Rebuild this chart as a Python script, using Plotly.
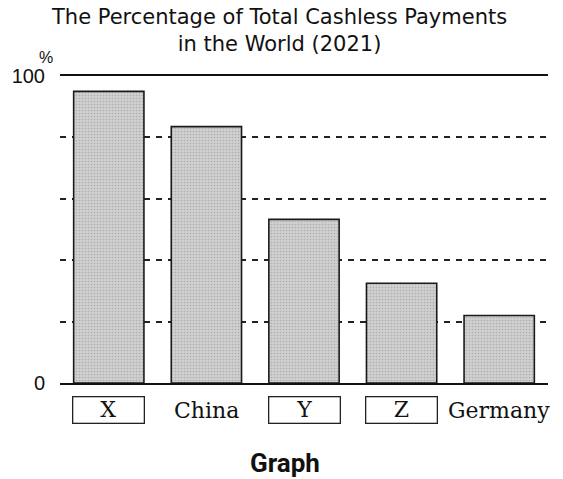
import plotly.graph_objects as go

categories = ["X", "China", "Y", "Z", "Germany"]
values = [95, 83.5, 53.3, 32.5, 22]
boxed = [True, False, True, True, False]
y_tickvals = [0, 20, 40, 60, 80, 100]
y_ticktext = ["0", "", "", "", "", "100"]
title_lines = ["The Percentage of Total Cashless Payments", "in the World (2021)"]

fig = go.Figure()
fig.add_trace(go.Bar(
    x=list(range(len(categories))),
    y=values,
    marker=dict(
        color="#cfcfcf",
        line=dict(color="#1a1a1a", width=1.6),
        pattern=dict(shape=".", fgcolor="#8c8c8c", bgcolor="#d0d0d0", size=3, solidity=0.25),
    ),
    width=0.72,
    hoverinfo="skip",
))

serif = "DejaVu Serif, Liberation Serif, serif"
sans = "DejaVu Sans, Liberation Sans, Arial, sans-serif"

for i, (cat, b) in enumerate(zip(categories, boxed)):
    fig.add_annotation(
        x=i, xref="x", y=0, yref="paper", yshift=-27, yanchor="middle",
        text=cat, showarrow=False,
        font=dict(family=serif, size=22, color="#111"),
        width=68 if b else None, height=23 if b else None,
        bordercolor="#222" if b else "rgba(0,0,0,0)", borderwidth=1.3 if b else 0,
        borderpad=1,
    )

# two-line title as one text block
fig.add_annotation(x=0.448, xref="paper", y=1, yref="paper", yshift=46, yanchor="middle",
                   text="<br>".join(title_lines), showarrow=False, borderpad=0, align="center",
                   font=dict(family=sans, size=21, color="#111"))

fig.add_annotation(
    x=0, xref="paper", xanchor="center", xshift=-14.5, y=1, yref="paper", yshift=19,
    yanchor="middle", text="%", showarrow=False,
    font=dict(family="Liberation Sans, Arial, sans-serif", size=16, color="#111"),
)
fig.add_annotation(
    x=0.461, xref="paper", y=0, yref="paper", yshift=-80, yanchor="middle",
    text="<b>Graph</b>", showarrow=False,
    font=dict(family="Roboto, Liberation Sans, Arial, sans-serif", size=26, color="#111"),
)

fig.update_layout(
    width=563, height=479,
    margin=dict(l=57, r=15, t=76, b=96),
    paper_bgcolor="white", plot_bgcolor="white",
    showlegend=False,
    xaxis=dict(
        range=[-0.5, 4.5], showticklabels=False, showgrid=False, zeroline=False,
        showline=True, linecolor="#111", linewidth=1.6, mirror=True, ticks="",
        fixedrange=True,
    ),
    yaxis=dict(
        range=[0, 100], tickvals=y_tickvals, ticktext=y_ticktext,
        showgrid=True, gridcolor="#222", gridwidth=1.5, griddash="6px,6px",
        zeroline=False, showline=False, ticks="", ticklabelstandoff=14,
        tickfont=dict(family="Liberation Sans, Arial, sans-serif", size=20, color="#111"),
        fixedrange=True,
    ),
)

fig.write_html("out.html", config={"displayModeBar": False},
               post_script="document.body.style.margin='0';")
